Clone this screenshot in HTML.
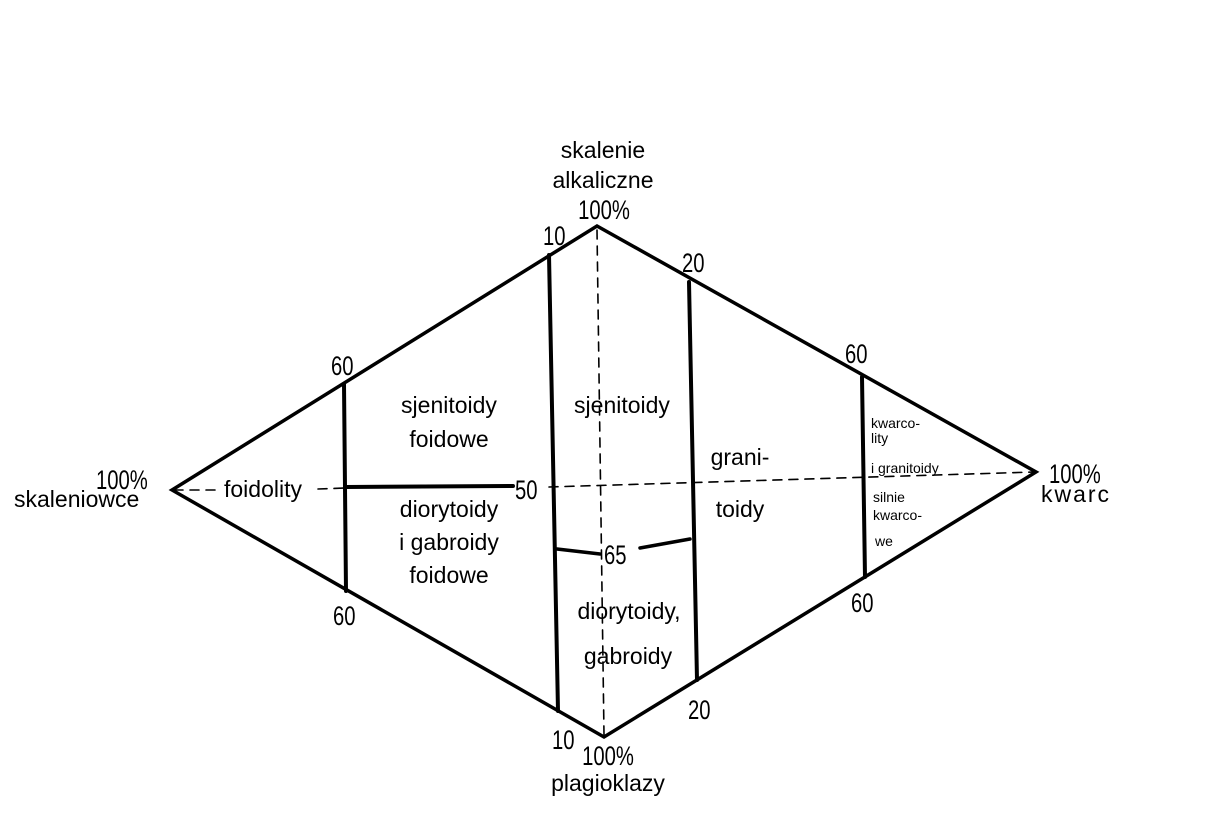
<!DOCTYPE html>
<html><head><meta charset="utf-8"><style>
html,body{margin:0;padding:0;background:#fff;}
svg text{font-family:"Liberation Sans",sans-serif;fill:#000;}
.n{font-size:27px;}
</style></head><body>
<svg width="1210" height="814" viewBox="0 0 1210 814" xmlns="http://www.w3.org/2000/svg">
<g stroke="#000" fill="none" stroke-linecap="round">
<polygon points="172,490 597,226 1036,472 604,737" stroke-width="3.5"/>
<line x1="549" y1="255" x2="558" y2="711" stroke-width="4"/>
<line x1="689" y1="282" x2="697" y2="680" stroke-width="4"/>
<line x1="344" y1="384" x2="346" y2="591" stroke-width="4"/>
<line x1="862" y1="377" x2="865" y2="577" stroke-width="4"/>
<line x1="346" y1="487" x2="513" y2="486" stroke-width="4"/>
<line x1="557" y1="549" x2="600" y2="554" stroke-width="3.5"/>
<line x1="640" y1="548" x2="690" y2="539" stroke-width="3.5"/>
<g stroke-width="1.6" stroke-dasharray="9,7">
<line x1="597" y1="230" x2="604" y2="735"/>
<line x1="549" y1="487" x2="1034" y2="472"/>
<line x1="174" y1="490" x2="222" y2="490"/>
<line x1="318" y1="489" x2="346" y2="488"/>
</g>
</g>
<g font-size="23">
<text x="603" y="158" text-anchor="middle">skalenie</text>
<text x="603" y="188" text-anchor="middle">alkaliczne</text>
<g class="n">
<text transform="translate(604,219) scale(0.75,1)" text-anchor="middle">100%</text>
<text transform="translate(543,245) scale(0.75,1)">10</text>
<text transform="translate(682,272) scale(0.75,1)">20</text>
<text transform="translate(331,375) scale(0.75,1)">60</text>
<text transform="translate(845,363) scale(0.75,1)">60</text>
<text transform="translate(333,625) scale(0.75,1)">60</text>
<text transform="translate(851,612) scale(0.75,1)">60</text>
<text transform="translate(96,489) scale(0.75,1)">100%</text>
<text transform="translate(1049,483) scale(0.75,1)">100%</text>
<text transform="translate(515,499) scale(0.75,1)">50</text>
<text transform="translate(604,564) scale(0.75,1)">65</text>
<text transform="translate(552,749) scale(0.75,1)">10</text>
<text transform="translate(688,719) scale(0.75,1)">20</text>
<text transform="translate(608,765) scale(0.75,1)" text-anchor="middle">100%</text>
</g>
<text x="14" y="507">skaleniowce</text>
<text x="1041" y="502" letter-spacing="2">kwarc</text>
<text x="224" y="497">foidolity</text>
<text x="449" y="413" text-anchor="middle">sjenitoidy</text>
<text x="449" y="447" text-anchor="middle">foidowe</text>
<text x="449" y="517" text-anchor="middle">diorytoidy</text>
<text x="449" y="550" text-anchor="middle">i gabroidy</text>
<text x="449" y="583" text-anchor="middle">foidowe</text>
<text x="622" y="413" text-anchor="middle">sjenitoidy</text>
<text x="740" y="465" text-anchor="middle">grani-</text>
<text x="740" y="517" text-anchor="middle">toidy</text>
<text x="629" y="619" text-anchor="middle">diorytoidy,</text>
<text x="628" y="664" text-anchor="middle">gabroidy</text>
<text x="608" y="791" text-anchor="middle">plagioklazy</text>
</g>
<g font-size="14">
<text x="871" y="428">kwarco-</text>
<text x="871" y="443">lity</text>
<text x="871" y="473">i granitoidy</text>
<text x="873" y="502">silnie</text>
<text x="873" y="520">kwarco-</text>
<text x="875" y="546">we</text>
</g>
</svg>
</body></html>
